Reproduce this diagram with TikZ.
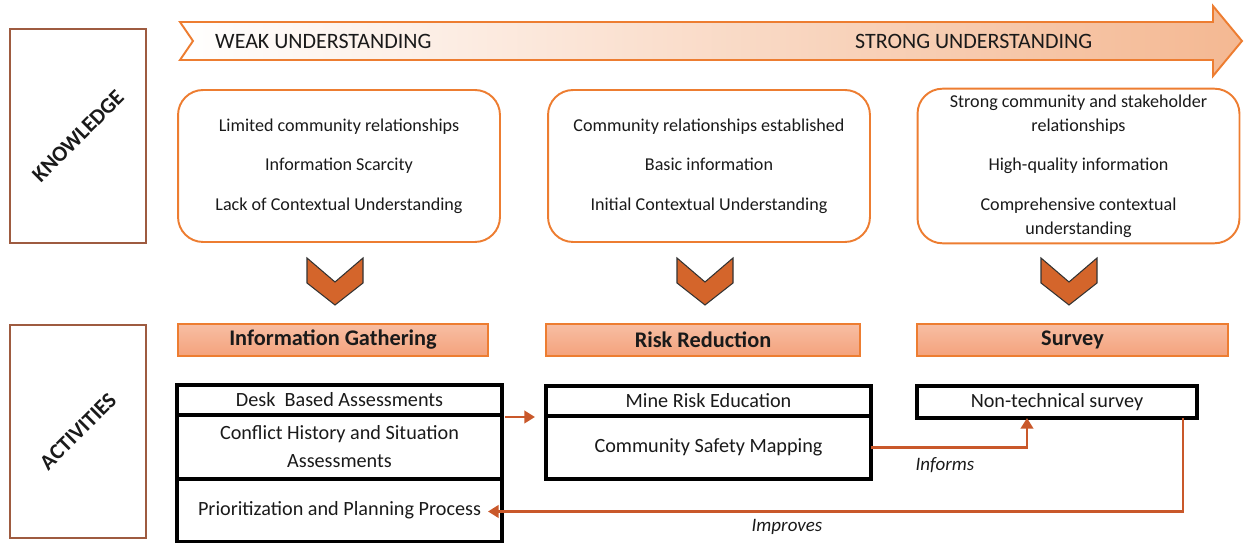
\documentclass[tikz,border=0pt]{standalone}
\usepackage{fontspec}
\setmainfont{Carlito}
\usepackage{tikz}
\usetikzlibrary{positioning,calc,arrows.meta}

\definecolor{kborder}{HTML}{ED7D31}
\definecolor{flowline}{HTML}{C9582A}
\definecolor{chevfill}{HTML}{D4652B}
\definecolor{headfill}{HTML}{F4A27C}
\definecolor{sidebrown}{HTML}{9E5B40}
\definecolor{peach}{HTML}{F4B892}
\definecolor{txt}{HTML}{1A1A1A}

\tikzset{
	side/.style={draw=sidebrown, line width=1.2pt, minimum width=2.72cm, minimum height=4.28cm},
	sidetext/.style={rotate=45, text=txt, font=\fontsize{12.5}{14}\selectfont\bfseries},
	know/.style={draw=kborder, line width=1.1pt, rounded corners=0.5cm, minimum width=6.44cm,
		minimum height=3.04cm, align=center, text=txt, font=\fontsize{10.3}{13.6}\selectfont},
	head/.style={draw=kborder, line width=0.8pt, top color=headfill!70, bottom color=headfill,
		minimum height=0.64cm, text=txt, font=\fontsize{12.7}{14}\selectfont\bfseries},
	act/.style={draw=black, line width=1.8pt, outer sep=0pt, minimum width=6.5cm, align=center,
		text=txt, font=\fontsize{11.5}{16}\selectfont},
	chevron/.style={fill=chevfill, draw=black!80, line width=0.6pt, line join=miter},
	flow/.style={draw=flowline, line width=1.6pt, -{Triangle[length=6pt,width=7pt]}},
	flowlabel/.style={text=txt, font=\fontsize{10.8}{12}\selectfont\itshape}
}

\begin{document}
\begin{tikzpicture}[x=0.02cm, y=-0.02cm]
	\useasboundingbox (0,0) rectangle (1244,543);

	%Pfeil oben
	\draw[kborder, line width=1.1pt, left color=white, right color=peach]
		(180,22) -- (1213,22) -- (1213,6) -- (1242,41) -- (1213,76) -- (1213,60)
		-- (180,60) -- (193,41) -- cycle;
	\node[anchor=west, text=txt, font=\fontsize{12.5}{14}\selectfont] (weak) at (209,41) {WEAK UNDERSTANDING};
	\node[anchor=west, text=txt, font=\fontsize{12.5}{14}\selectfont] (strong) at (849,41) {STRONG UNDERSTANDING};

	%Seitenkaesten
	\node[side] (knowside) at (78,136) {};
	\node[sidetext] at (knowside) {KNOWLEDGE};
	\node[side, minimum height=4.26cm] (actside) at (78,431.5) {};
	\node[sidetext] at (actside) {ACTIVITIES};

	%Wissen
	\node[know] (weakbox) at (339,166) {Limited community relationships\\[9pt]
		Information Scarcity\\[9pt]Lack of Contextual Understanding};
	\node[know] (midbox) at (709,166) {Community relationships established\\[9pt]
		Basic information\\[9pt]Initial Contextual Understanding};
	\node[know] (strongbox) at (1078.5,166) {Strong community and stakeholder\\relationships\\[9pt]
		High-quality information\\[9pt]Comprehensive contextual\\understanding};

	\foreach \cx in {335,705,1069}
		\draw[chevron] ({\cx-28},258) -- (\cx,282) -- ({\cx+28},258) -- ({\cx+28},283)
			-- (\cx,305) -- ({\cx-28},283) -- cycle;

	%Aktivitaeten
	\node[head, minimum width=6.2cm] (gather) at (333,340) {Information Gathering};
	\node[head, minimum width=6.28cm] (risk) at (703,340) {Risk Reduction};
	\node[head, minimum width=6.22cm] (survey) at (1072.5,340) {Survey};

	\node[act, minimum height=0.6cm] (desk) at (339.5,400) {Desk\ \ Based Assessments};
	\node[act, minimum height=1.28cm, below=0pt of desk] (conflict) {Conflict History and Situation\\Assessments};
	\node[act, minimum height=1.26cm, below=0pt of conflict] (plan) {Prioritization and Planning Process};

	\node[act, minimum height=0.6cm] (mre) at (708.5,401) {Mine Risk Education};
	\node[act, minimum height=1.26cm, below=0pt of mre] (csm) {Community Safety Mapping};

	\node[act, minimum width=5.6cm, minimum height=0.64cm] (nts) at (1057,402) {Non-technical survey};

	\draw[flow] (conflict.north east) ++(3,2) -- ++(30,0);
	\draw[flow] (csm.east) -| ($(nts.south)+(-30,0)$);
	\draw[flow] ($(nts.south)+(126,0)$) |- ($(plan.east)+(-14,1)$);
	\node[flowlabel] (informs) at (945,465) {Informs};
	\node[flowlabel] (improves) at (787,527) {Improves};

\end{tikzpicture}
\end{document}
